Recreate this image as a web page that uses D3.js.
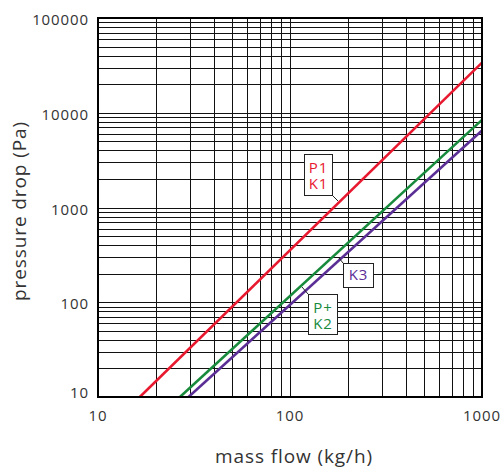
<!DOCTYPE html>
<meta charset="utf-8">
<style>
  body { margin: 0; background: #fff; }
  text { font-family: "Open Sans", sans-serif; fill: #333; letter-spacing: 0.9px; }
  .grid line { stroke: #111; stroke-width: 1; }
  .frame { fill: none; stroke: #000; stroke-width: 2; }
  .curve { fill: none; stroke-width: 2.5; }
  .tag rect { fill: #fff; stroke: #222; stroke-width: 1; }
  .tag line { stroke: #222; stroke-width: 1; }
</style>
<body>
<svg id="chart"></svg>
<script src="https://d3js.org/d3.v7.min.js"></script>
<script>
  var width = 501,
    height = 470;

  // tick labels
  var xTicks = [10, 100, 1000];
  var yTicks = [10, 100, 1000, 10000, 100000];

  // series: end points
  var seriesNames = ["P1 K1", "P+ K2", "K3"];
  var seriesColors = ["#e8182f", "#178a3c", "#5b2e96"];
  var p1k1Flow = [16.5, 1000];
  var p1k1Drop = [10, 33800];
  var pk2Flow = [26.7, 1000];
  var pk2Drop = [10, 8400];
  var k3Flow = [29.6, 1000];
  var k3Drop = [10, 6500];

  var series = [
    { name: seriesNames[0], color: seriesColors[0], x: p1k1Flow, y: p1k1Drop },
    { name: seriesNames[1], color: seriesColors[1], x: pk2Flow, y: pk2Drop },
    { name: seriesNames[2], color: seriesColors[2], x: k3Flow, y: k3Drop }
  ];

  var plotL = 98, plotR = 482, plotT = 18, plotB = 397;

  var x = d3.scaleLog().domain([10, 1000]).range([plotL, plotR]);
  var y = d3.scaleLog().domain([10, 100000]).range([plotB, plotT]);

  var svg = d3.select("#chart")
    .attr("width", width)
    .attr("height", height);

  // grid: every log tick 1..9 per decade
  var grid = svg.append("g").attr("class", "grid");

  grid.selectAll(".vx")
    .data(x.ticks())
    .enter().append("line")
    .attr("x1", function (d) { return Math.round(x(d)) + 0.5; })
    .attr("x2", function (d) { return Math.round(x(d)) + 0.5; })
    .attr("y1", plotT)
    .attr("y2", plotB);

  grid.selectAll(".hy")
    .data(y.ticks())
    .enter().append("line")
    .attr("y1", function (d) { return Math.round(y(d)) + 0.5; })
    .attr("y2", function (d) { return Math.round(y(d)) + 0.5; })
    .attr("x1", plotL)
    .attr("x2", plotR);

  var line = d3.line()
    .x(function (d) { return x(d[0]); })
    .y(function (d) { return y(d[1]); });

  svg.append("g")
    .selectAll("path")
    .data(series)
    .enter().append("path")
    .attr("class", "curve")
    .attr("stroke", function (d) { return d.color; })
    .attr("d", function (d) { return line(d3.zip(d.x, d.y)); });

  svg.append("rect")
    .attr("class", "frame")
    .attr("x", plotL)
    .attr("y", plotT)
    .attr("width", plotR - plotL)
    .attr("height", plotB - plotT);

  // tick labels
  svg.append("g")
    .selectAll("text")
    .data(xTicks)
    .enter().append("text")
    .attr("x", function (d) { return x(d); })
    .attr("y", 421)
    .attr("text-anchor", "middle")
    .style("font-size", "15px")
    .text(function (d) { return d; });

  svg.append("g")
    .selectAll("text")
    .data(yTicks)
    .enter().append("text")
    .attr("x", 89)
    .attr("y", function (d) { return y(d) + (d === 10 ? 1 : 7); })
    .attr("text-anchor", "end")
    .style("font-size", "15px")
    .text(function (d) { return d; });

  // axis titles
  svg.append("text")
    .attr("x", 294)
    .attr("y", 463)
    .attr("text-anchor", "middle")
    .style("font-size", "19px")
    .text("mass flow (kg/h)");

  svg.append("text")
    .attr("transform", "translate(26,211)rotate(-90)")
    .attr("text-anchor", "middle")
    .style("font-size", "19px")
    .text("pressure drop (Pa)");

  // series tags
  var tags = [
    { s: 0, box: [304, 154, 28, 41], lead: [332, 195, 338, 201] },
    { s: 1, box: [308, 294, 29, 40], lead: [308, 294, 302, 287] },
    { s: 2, box: [343, 263, 30, 24], lead: [343, 263, 339, 258] }
  ];

  var tag = svg.append("g")
    .selectAll("g")
    .data(tags)
    .enter().append("g")
    .attr("class", "tag");

  tag.append("line")
    .attr("x1", function (d) { return d.lead[0]; })
    .attr("y1", function (d) { return d.lead[1]; })
    .attr("x2", function (d) { return d.lead[2]; })
    .attr("y2", function (d) { return d.lead[3]; });

  tag.append("rect")
    .attr("x", function (d) { return d.box[0] + 0.5; })
    .attr("y", function (d) { return d.box[1] + 0.5; })
    .attr("width", function (d) { return d.box[2]; })
    .attr("height", function (d) { return d.box[3]; });

  tag.each(function (d) {
    var parts = series[d.s].name.split(" ");
    var cx = d.box[0] + d.box[2] / 2 + 0.5;
    var t = d3.select(this).append("text")
      .attr("text-anchor", "middle")
      .style("font-size", "15px")
      .style("fill", series[d.s].color);
    parts.forEach(function (p, i) {
      t.append("tspan")
        .attr("x", cx)
        .attr("y", d.box[1] + 19 + i * 16 - (parts.length === 1 ? 2 : 0))
        .text(p);
    });
  });
</script>
</body>
